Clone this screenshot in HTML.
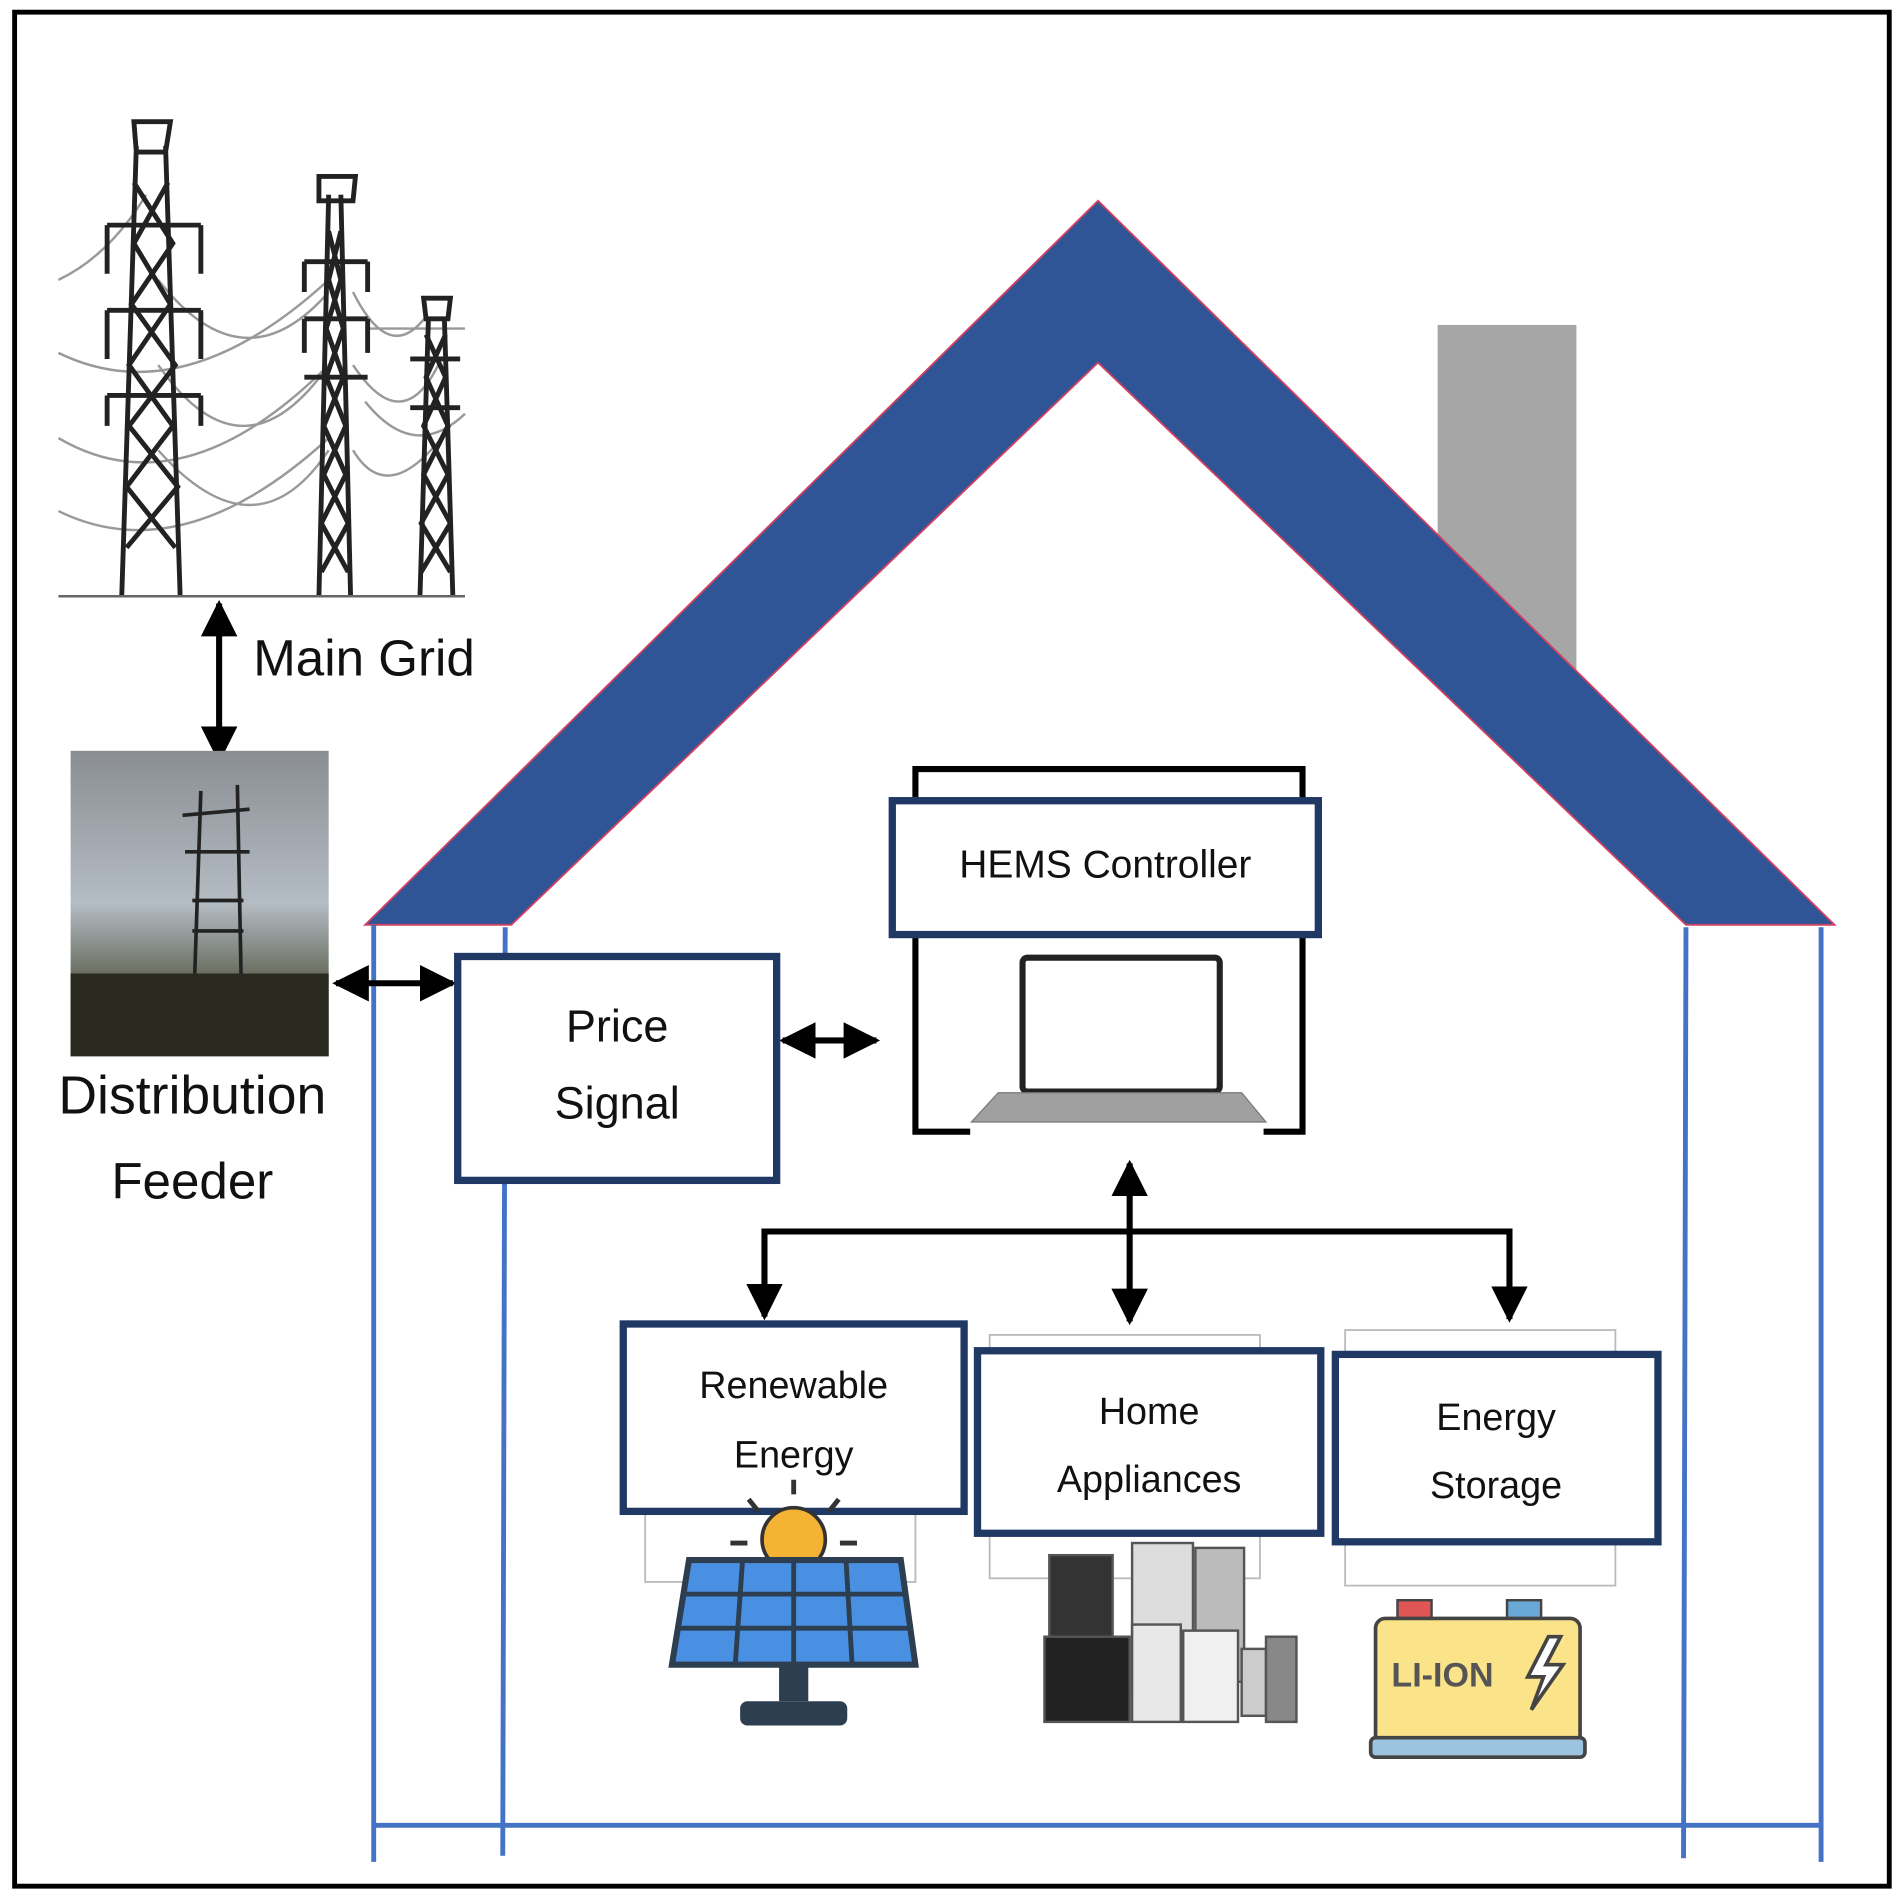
<!DOCTYPE html>
<html><head><meta charset="utf-8"><style>
html,body{margin:0;padding:0;background:#fff;}
svg{display:block;}
text{font-family:"Liberation Sans",sans-serif;}
</style></head><body>
<svg width="1899" height="1902" viewBox="0 0 1560 1563" preserveAspectRatio="none" xmlns="http://www.w3.org/2000/svg">
<defs>
<marker id="ah" viewBox="0 0 10 10" refX="9" refY="5" markerWidth="6" markerHeight="6" orient="auto-start-reverse"><path d="M0,0 L10,5 L0,10 z" fill="#000"/></marker>
<linearGradient id="sky" x1="0" y1="0" x2="0" y2="1"><stop offset="0" stop-color="#8a8e92"/><stop offset="0.5" stop-color="#b4bcc4"/><stop offset="0.72" stop-color="#6e7266"/><stop offset="1" stop-color="#2e2a20"/></linearGradient>
</defs>
<rect x="12" y="10" width="1540" height="1540" fill="#fff" stroke="#000" stroke-width="4"/>
<g stroke="#999" stroke-width="2" fill="none">
<path d="M48,230 Q90,210 120,160"/><path d="M48,290 Q150,340 270,230"/><path d="M48,360 Q150,420 270,300"/><path d="M48,420 Q150,470 270,360"/>
<path d="M130,230 Q200,320 270,240"/><path d="M130,300 Q200,400 270,300"/><path d="M130,370 Q210,460 270,370"/>
<path d="M290,240 Q320,300 350,260"/><path d="M290,300 Q330,360 360,300"/><path d="M290,370 Q320,420 370,350"/><path d="M300,270 L382,270"/><path d="M300,330 Q340,380 382,340"/>
</g>
<g stroke="#222" stroke-width="4" fill="none">
<path d="M100,490 L112,120 M148,490 L136,120 M110,100 L140,100 L136,125 L112,125 Z"/>
<path d="M88,185 L165,185 M88,255 L165,255 M88,325 L165,325 M88,185 L88,225 M165,185 L165,225 M88,255 L88,295 M165,255 L165,295 M88,325 L88,350 M165,325 L165,350"/>
<path d="M104,450 L146,400 L106,350 L144,300 L108,250 L142,200 L110,150 M144,450 L104,400 L142,350 L106,300 L140,250 L110,200 L138,150"/>
<path d="M262,490 L270,160 M288,490 L280,160 M262,145 L292,145 L290,165 L262,165 Z M250,215 L302,215 M250,262 L302,262 M250,310 L302,310 M250,215 L250,240 M302,215 L302,240 M250,262 L250,290 M302,262 L302,290"/>
<path d="M264,470 L286,430 L266,390 L284,350 L268,310 L282,270 L270,230 L280,190 M286,470 L264,430 L284,390 L266,350 L282,310 L268,270 L280,230 L270,190"/>
<path d="M345,490 L352,260 M372,490 L365,260 M348,245 L370,245 L368,262 L350,262 Z M337,295 L378,295 M337,335 L378,335"/>
<path d="M346,470 L370,430 L348,390 L368,350 L350,310 L366,275 M370,470 L346,430 L368,390 L348,350 L366,310 L350,275"/>
</g>
<line x1="48" y1="490" x2="382" y2="490" stroke="#666" stroke-width="2"/>
<line x1="180" y1="496" x2="180" y2="624" stroke="#000" stroke-width="5" marker-start="url(#ah)" marker-end="url(#ah)"/>
<text x="208" y="555" font-size="42" fill="#111">Main Grid</text>
<rect x="58" y="617" width="212" height="251" fill="url(#sky)"/>
<g stroke="#222" stroke-width="3" fill="none"><path d="M165,650 L160,800 M195,645 L198,800 M150,670 L205,665 M152,700 L205,700 M158,740 L200,740 M158,765 L200,765"/></g>
<rect x="58" y="800" width="212" height="68" fill="#2a2a20"/>
<text x="158" y="915" font-size="44" text-anchor="middle" fill="#111">Distribution</text>
<text x="158" y="985" font-size="42" text-anchor="middle" fill="#111">Feeder</text>
<rect x="1181" y="267" width="114" height="290" fill="#a6a6a6"/>
<polygon points="902,165 300,760 420,760 902,298 1385,760 1507,760" fill="#2f5597" stroke="#d04060" stroke-width="1.5"/>
<g stroke="#4472c4" stroke-width="4">
<line x1="307" y1="760" x2="307" y2="1530"/><line x1="415" y1="762" x2="413" y2="1525"/>
<line x1="1385" y1="762" x2="1383" y2="1527"/><line x1="1496" y1="762" x2="1496" y2="1530"/>
<line x1="307" y1="1500" x2="1496" y2="1500"/>
</g>
<line x1="276" y1="808" x2="372" y2="808" stroke="#000" stroke-width="5" marker-start="url(#ah)" marker-end="url(#ah)"/>
<line x1="643" y1="855" x2="720" y2="855" stroke="#000" stroke-width="5" marker-start="url(#ah)" marker-end="url(#ah)"/>
<rect x="376" y="786" width="262" height="184" fill="#fff" stroke="#1f3864" stroke-width="6"/>
<text x="507" y="856" font-size="37" text-anchor="middle" fill="#111">Price</text>
<text x="507" y="919" font-size="37" text-anchor="middle" fill="#111">Signal</text>
<path d="M797,930 L752,930 L752,632 L1070,632 L1070,930 L1038,930" fill="none" stroke="#000" stroke-width="5"/>
<rect x="733" y="658" width="350" height="110" fill="#fff" stroke="#1f3864" stroke-width="6"/>
<text x="908" y="721" font-size="32" text-anchor="middle" fill="#111">HEMS Controller</text>
<rect x="840" y="787" width="162" height="110" fill="#fff" stroke="#222" stroke-width="5" rx="4"/>
<path d="M820,898 L1020,898 L1040,922 L798,922 Z" fill="#a0a0a0" stroke="#777"/>
<line x1="928" y1="956" x2="928" y2="1086" stroke="#000" stroke-width="5" marker-start="url(#ah)" marker-end="url(#ah)"/>
<path d="M628,1082 L628,1012 L1240,1012 L1240,1084" fill="none" stroke="#000" stroke-width="5" marker-start="url(#ah)" marker-end="url(#ah)"/>
<g fill="none" stroke="#bbb" stroke-width="1.5">
<rect x="530" y="1242" width="222" height="58"/><rect x="813" y="1097" width="222" height="200"/><rect x="1105" y="1093" width="222" height="210"/>
</g>
<rect x="512" y="1088" width="280" height="154" fill="#fff" stroke="#1f3864" stroke-width="6"/>
<text x="652" y="1149" font-size="31" text-anchor="middle" fill="#111">Renewable</text>
<text x="652" y="1206" font-size="31" text-anchor="middle" fill="#111">Energy</text>
<rect x="803" y="1110" width="282" height="150" fill="#fff" stroke="#1f3864" stroke-width="6"/>
<text x="944" y="1170" font-size="31" text-anchor="middle" fill="#111">Home</text>
<text x="944" y="1226" font-size="31" text-anchor="middle" fill="#111">Appliances</text>
<rect x="1097" y="1113" width="265" height="154" fill="#fff" stroke="#1f3864" stroke-width="6"/>
<text x="1229" y="1175" font-size="31" text-anchor="middle" fill="#111">Energy</text>
<text x="1229" y="1231" font-size="31" text-anchor="middle" fill="#111">Storage</text>
<circle cx="652" cy="1265" r="26" fill="#f5b335" stroke="#333" stroke-width="3"/>
<rect x="560" y="1280" width="185" height="10" fill="#fff"/>
<g stroke="#333" stroke-width="4"><line x1="652" y1="1216" x2="652" y2="1228"/><line x1="615" y1="1232" x2="623" y2="1242"/><line x1="689" y1="1232" x2="681" y2="1242"/><line x1="600" y1="1268" x2="614" y2="1268"/><line x1="690" y1="1268" x2="704" y2="1268"/></g>
<path d="M566,1282 L740,1282 L752,1368 L552,1368 Z" fill="#4a90e2" stroke="#2c3e50" stroke-width="5"/>
<g stroke="#2c3e50" stroke-width="4"><line x1="562" y1="1310" x2="743" y2="1310"/><line x1="558" y1="1338" x2="747" y2="1338"/><line x1="610" y1="1282" x2="604" y2="1368"/><line x1="652" y1="1282" x2="652" y2="1368"/><line x1="695" y1="1282" x2="700" y2="1368"/></g>
<rect x="640" y="1370" width="24" height="28" fill="#2c3e50"/><rect x="608" y="1398" width="88" height="20" rx="6" fill="#2c3e50"/>
<g stroke="#555" stroke-width="2">
<rect x="862" y="1278" width="52" height="120" fill="#333"/><rect x="930" y="1268" width="50" height="120" fill="#ddd"/><rect x="982" y="1272" width="40" height="110" fill="#bbb"/>
<rect x="858" y="1345" width="70" height="70" fill="#222"/><rect x="930" y="1335" width="40" height="80" fill="#e8e8e8"/><rect x="972" y="1340" width="45" height="75" fill="#f0f0f0"/><rect x="1020" y="1355" width="20" height="55" fill="#ccc"/><rect x="1040" y="1345" width="25" height="70" fill="#888"/>
</g>
<rect x="1148" y="1315" width="28" height="16" fill="#e05555" stroke="#444" stroke-width="2"/><rect x="1238" y="1315" width="28" height="16" fill="#6aa8d8" stroke="#444" stroke-width="2"/>
<rect x="1130" y="1330" width="168" height="104" rx="8" fill="#fbe38a" stroke="#444" stroke-width="3"/>
<rect x="1126" y="1428" width="176" height="16" rx="4" fill="#9cc3e0" stroke="#444" stroke-width="3"/>
<text x="1143" y="1386" font-size="28" fill="#555" font-weight="bold">LI-ION</text>
<path d="M1272,1345 L1255,1378 L1268,1378 L1258,1405 L1284,1368 L1270,1368 L1282,1345 Z" fill="#fff" stroke="#444" stroke-width="3"/>
</svg>
</body></html>
